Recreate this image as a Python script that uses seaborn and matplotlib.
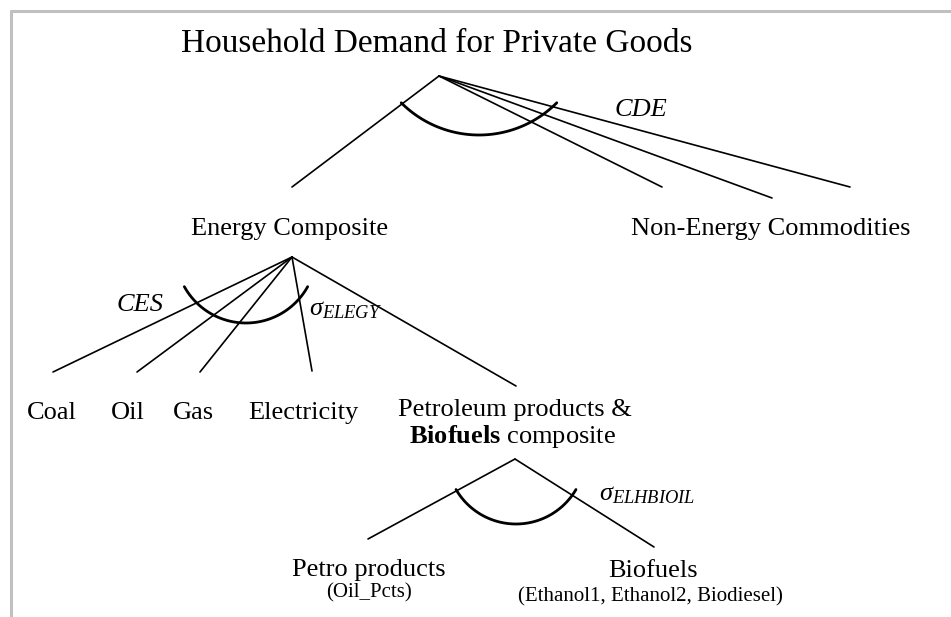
import numpy as np
import pandas as pd
import matplotlib
matplotlib.use("Agg")
import matplotlib.pyplot as plt
import seaborn as sns

# node positions in picture pixels (x right, y down)
top_node = (439, 76)
energy_node = (292, 257)
bio_node = (515, 459)

# branch ends
top_ends_x = [292, 662, 772, 850]
top_ends_y = [187, 187, 198, 187]
energy_ends_x = [53, 137, 200, 312, 516]
energy_ends_y = [372, 372, 372, 371, 386]
bio_ends_x = [368, 654]
bio_ends_y = [539, 547]

# substitution arcs: centre x, centre y, radius, half-angle (deg)
arc_cx = [479, 246, 516]
arc_cy = [25, 252.5, 454.6]
arc_r = [110, 70.5, 69.4]
arc_half = [45, 61, 59.8]

title = "Household Demand for Private Goods"
level1_labels = ["Energy Composite", "Non-Energy Commodities"]
level2_labels = ["Coal", "Oil", "Gas", "Electricity"]
level3_labels = ["Petro products", "Biofuels"]
level3_notes = ["(Oil_Pcts)", "(Ethanol1, Ethanol2, Biodiesel)"]

sns.set_style("white")
plt.rcParams["font.family"] = ["Liberation Serif", "DejaVu Serif"]
plt.rcParams["text.color"] = "black"
plt.rcParams["mathtext.fontset"] = "custom"
plt.rcParams["mathtext.rm"] = "Liberation Serif"
plt.rcParams["mathtext.it"] = "Liberation Serif:italic"
plt.rcParams["mathtext.bf"] = "Liberation Serif:bold"

# edge table
rows = []
k = 0
for node, xs, ys in [(top_node, top_ends_x, top_ends_y),
                     (energy_node, energy_ends_x, energy_ends_y),
                     (bio_node, bio_ends_x, bio_ends_y)]:
    for ex, ey in zip(xs, ys):
        rows.append((k, 0, node[0], node[1]))
        rows.append((k, 1, ex, ey))
        k += 1
edges = pd.DataFrame(rows, columns=["edge", "order", "x", "y"])

arc_rows = []
for i in range(len(arc_cx)):
    t = np.radians(np.linspace(90 - arc_half[i], 90 + arc_half[i], 60))
    for j, a in enumerate(t):
        arc_rows.append((i, j, arc_cx[i] + arc_r[i] * np.cos(a), arc_cy[i] + arc_r[i] * np.sin(a)))
arcs = pd.DataFrame(arc_rows, columns=["arc", "order", "x", "y"])

fig = plt.figure(figsize=(9.51, 6.17), dpi=100)
ax = fig.add_axes([0, 0, 1, 1])

sns.lineplot(data=edges, x="x", y="y", units="edge", estimator=None, sort=False,
             color="black", lw=1.2, ax=ax)
sns.lineplot(data=arcs, x="x", y="y", units="arc", estimator=None, sort=False,
             color="black", lw=2.0, ax=ax)

# frame lines (top and left only)
ax.plot([10, 951], [11, 11], color="#c0c0c0", lw=2.2, solid_capstyle="butt")
ax.plot([11, 11], [10, 617], color="#c0c0c0", lw=2.2, solid_capstyle="butt")

ax.set_xlim(0, 951)
ax.set_ylim(617, 0)
ax.axis("off")

fs = 19
ax.text(436.5, 52, title, fontsize=24, ha="center", va="baseline")
ax.text(641, 116, "CDE", fontsize=fs, style="italic", ha="center", va="baseline")
ax.text(290, 235, level1_labels[0], fontsize=fs, ha="center", va="baseline")
ax.text(771, 235, level1_labels[1], fontsize=fs, ha="center", va="baseline")
ax.text(140, 311, "CES", fontsize=fs, style="italic", ha="center", va="baseline")
ax.text(309, 315, r"$\sigma_{ELEGY}$", fontsize=fs, ha="left", va="baseline")

for lab, cx in zip(level2_labels, [52, 128, 193, 303]):
    ax.text(cx, 419, lab, fontsize=fs, ha="center", va="baseline")
ax.text(515, 416, "Petroleum products &", fontsize=fs, ha="center", va="baseline")
ax.text(512.5, 443, r"$\mathbf{Biofuels}$ composite", fontsize=fs, ha="center", va="baseline")

ax.text(599, 500, r"$\sigma_{ELHBIOIL}$", fontsize=fs, ha="left", va="baseline")

ax.text(369, 576, level3_labels[0], fontsize=fs, ha="center", va="baseline")
ax.text(369, 597, level3_notes[0], fontsize=15, ha="center", va="baseline")
ax.text(653.5, 577, level3_labels[1], fontsize=fs, ha="center", va="baseline")
ax.text(650.6, 601, level3_notes[1], fontsize=15, ha="center", va="baseline")

fig.savefig("out.png", dpi=100, facecolor="white")
